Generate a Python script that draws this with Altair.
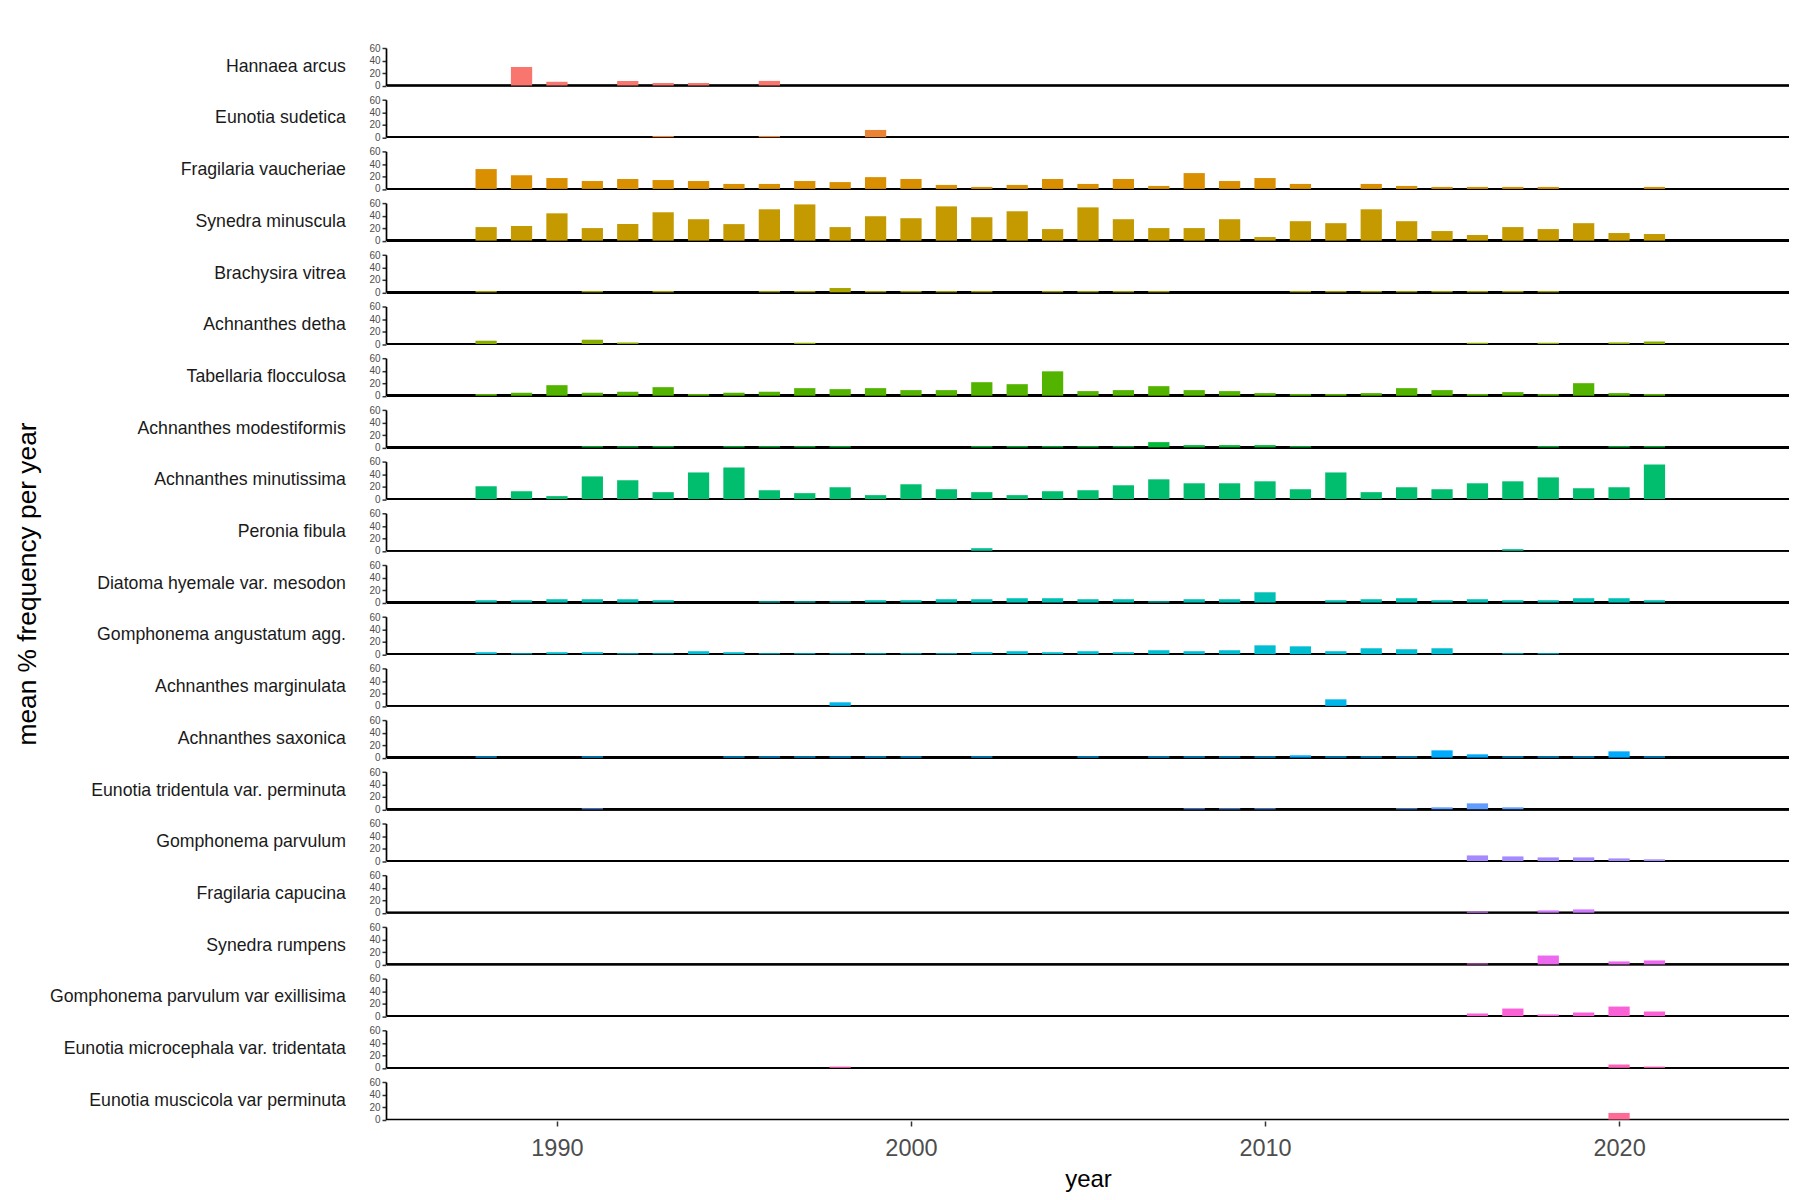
import math
import altair as alt
import pandas as pd

N = None
YEARS = [1988, 1989, 1990, 1991, 1992, 1993, 1994, 1995, 1996, 1997, 1998, 1999,
         2000, 2001, 2002, 2003, 2004, 2005, 2006, 2007, 2008, 2009, 2010, 2011,
         2012, 2013, 2014, 2015, 2016, 2017, 2018, 2019, 2020, 2021]

SPECIES = [
    "Hannaea arcus", "Eunotia sudetica", "Fragilaria vaucheriae", "Synedra minuscula",
    "Brachysira vitrea", "Achnanthes detha", "Tabellaria flocculosa",
    "Achnanthes modestiformis", "Achnanthes minutissima", "Peronia fibula",
    "Diatoma hyemale var. mesodon", "Gomphonema angustatum agg.", "Achnanthes marginulata",
    "Achnanthes saxonica", "Eunotia tridentula var. perminuta", "Gomphonema parvulum",
    "Fragilaria capucina", "Synedra rumpens", "Gomphonema parvulum var exillisima",
    "Eunotia microcephala var. tridentata", "Eunotia muscicola var perminuta",
]

#                1988 89    90    91    92    93    94    95    96    97    98    99    2000  01    02    03    04    05    06    07    08    09    10    11    12    13    14    15    16    17    18    19    20    21
hannaea      = [N,    30,   6,    N,    7.4,  4,    4,    N,    7.4,  N,    N,    N,    N,    N,    N,    N,    N,    N,    N,    N,    N,    N,    N,    N,    N,    N,    N,    N,    N,    N,    N,    N,    N,    N]
sudetica     = [N,    N,    N,    N,    N,    2,    N,    N,    2,    N,    N,    11.7, N,    N,    N,    N,    N,    N,    N,    N,    N,    N,    N,    N,    N,    N,    N,    N,    N,    N,    N,    N,    N,    N]
vaucheriae   = [32,   22,   17.5, 12.7, 16,   14.3, 12.7, 8,    8,    12.7, 11,   19,   16,   6.4,  3.2,  6.4,  16,   8,    16,   4.8,  25.5, 12.7, 17.5, 8,    N,    8,    4.8,  3.2,  3.2,  3.2,  3.2,  N,    N,    3.2]
minuscula    = [21.8, 23.4, 44,   20.2, 26.6, 45.7, 34.5, 26.6, 50.5, 58.4, 21.8, 39.3, 36.1, 55.2, 37.7, 47.3, 18.6, 53.6, 34.5, 20.2, 20.2, 34.5, 5.8,  31.3, 28.1, 50.5, 31.3, 15.4, 9,    21.8, 18.6, 28.1, 12.2, 10.6]
brachysira   = [2,    N,    N,    2,    N,    2,    N,    N,    2,    2,    6.9,  2,    2,    2,    2,    N,    2,    2,    2,    2,    N,    N,    N,    2,    2,    2,    2,    2,    2,    2,    2,    N,    N,    N]
detha        = [5.3,  N,    N,    6.9,  2.5,  N,    N,    N,    N,    2,    N,    N,    N,    N,    N,    N,    N,    N,    N,    N,    N,    N,    N,    N,    N,    N,    N,    N,    2,    N,    2,    N,    2.5,  4]
tabellaria   = [2.7,  4.8,  17,   4.8,  6.4,  13.8, 2.7,  4.8,  6.4,  12.2, 10.6, 12.2, 9,    9,    21.8, 18.6, 39.3, 7.4,  9,    15.4, 9,    7.4,  4.2,  2.7,  2.7,  4.2,  12.2, 9,    2.7,  5.8,  2.7,  20.2, 4.2,  2.7]
modestiform  = [N,    N,    N,    2,    2,    2,    N,    2,    2,    2,    2,    N,    N,    N,    2,    2,    2,    2,    2,    8.5,  3.7,  3.7,  3.7,  2,    N,    N,    N,    N,    N,    N,    2,    N,    2,    2]
minutissima  = [20.7, 12.7, 4.8,  36.6, 30.3, 11.2, 43,   51,   14.3, 9.6,  19.1, 6.4,  23.9, 15.9, 11.2, 6.4,  12.7, 14.3, 22.3, 31.9, 25.5, 25.5, 28.7, 15.9, 43,   11.2, 19.1, 15.9, 25.5, 28.7, 35,   17.5, 19.1, 55.8]
peronia      = [N,    N,    N,    N,    N,    N,    N,    N,    N,    N,    N,    N,    N,    N,    4.2,  N,    N,    N,    N,    N,    N,    N,    N,    N,    N,    N,    N,    N,    N,    2.7,  N,    N,    N,    N]
diatoma      = [3.7,  3.7,  5.3,  5.3,  5.3,  3.7,  N,    N,    2,    2,    2,    3.7,  3.7,  5.3,  5.3,  6.9,  6.9,  5.3,  5.3,  2,    5.3,  5.3,  16.5, N,    3.7,  5.3,  6.9,  3.7,  5.3,  3.7,  3.7,  6.9,  6.9,  3.7]
angustatum   = [3.2,  1.6,  3.2,  3.2,  1.6,  1.6,  4.8,  3.2,  1.6,  1.6,  1.6,  1.6,  1.6,  1.6,  3.2,  4.8,  3.2,  4.8,  3.2,  6.4,  4.8,  6.4,  14.3, 12.7, 4.8,  9.6,  8,    9.6,  N,    1.6,  1.6,  N,    N,    N]
marginulata  = [N,    N,    N,    N,    N,    N,    N,    N,    N,    N,    5.8,  N,    N,    N,    N,    N,    N,    N,    N,    N,    N,    N,    N,    N,    10.6, N,    N,    N,    N,    N,    N,    N,    N,    N]
saxonica     = [2,    N,    N,    2,    N,    N,    N,    2,    2,    2,    2,    2,    2,    N,    2,    N,    N,    2,    N,    2,    2,    2,    2,    3.7,  2,    2,    2,    11.7, 5.3,  2,    2,    2,    10.1, 2]
tridentula   = [N,    N,    N,    1.6,  N,    N,    N,    N,    N,    N,    N,    N,    N,    N,    N,    N,    N,    N,    N,    N,    1.6,  1.6,  1.6,  N,    N,    N,    1.6,  3.2,  9.6,  3.2,  N,    N,    N,    N]
parvulum     = [N,    N,    N,    N,    N,    N,    N,    N,    N,    N,    N,    N,    N,    N,    N,    N,    N,    N,    N,    N,    N,    N,    N,    N,    N,    N,    N,    N,    9,    7.4,  5.8,  5.8,  4.2,  2.7]
capucina     = [N,    N,    N,    N,    N,    N,    N,    N,    N,    N,    N,    N,    N,    N,    N,    N,    N,    N,    N,    N,    N,    N,    N,    N,    N,    N,    N,    N,    2,    N,    3.7,  5.3,  N,    N]
rumpens      = [N,    N,    N,    N,    N,    N,    N,    N,    N,    N,    N,    N,    N,    N,    N,    N,    N,    N,    N,    N,    N,    N,    N,    N,    N,    N,    N,    N,    1.6,  N,    14.3, N,    4.8,  6.4]
exillisima   = [N,    N,    N,    N,    N,    N,    N,    N,    N,    N,    N,    N,    N,    N,    N,    N,    N,    N,    N,    N,    N,    N,    N,    N,    N,    N,    N,    N,    4.2,  12.2, 2.7,  5.8,  15.4, 7.4]
microcephala = [N,    N,    N,    N,    N,    N,    N,    N,    N,    N,    2,    N,    N,    N,    N,    N,    N,    N,    N,    N,    N,    N,    N,    N,    N,    N,    N,    N,    N,    N,    N,    N,    5.3,  2]
muscicola    = [N,    N,    N,    N,    N,    N,    N,    N,    N,    N,    N,    N,    N,    N,    N,    N,    N,    N,    N,    N,    N,    N,    N,    N,    N,    N,    N,    N,    N,    N,    N,    N,    10.6, N]

SERIES = [hannaea, sudetica, vaucheriae, minuscula, brachysira, detha, tabellaria,
          modestiform, minutissima, peronia, diatoma, angustatum, marginulata, saxonica,
          tridentula, parvulum, capucina, rumpens, exillisima, microcephala, muscicola]

rows = []
for name, vals in zip(SPECIES, SERIES):
    for yr, v in zip(YEARS, vals):
        if v is not None:
            rows.append({"species": name, "year": yr, "value": v})
df = pd.DataFrame(rows)


def hcl_hex(h, c=100.0, l=65.0):
    hr = math.radians(h)
    U, V = c * math.cos(hr), c * math.sin(hr)
    Xn, Yn, Zn = 95.047, 100.0, 108.883
    Y = Yn * ((l + 16) / 116) ** 3
    t = Xn + 15 * Yn + 3 * Zn
    un, vn = 4 * Xn / t, 9 * Yn / t
    u, v = U / (13 * l) + un, V / (13 * l) + vn
    X = 9.0 * Y * u / (4 * v)
    Z = -X / 3 - 5 * Y + 3 * Y / v
    X, Y, Z = X / 100, Y / 100, Z / 100
    rgb = [3.240479 * X - 1.537150 * Y - 0.498535 * Z,
           -0.969256 * X + 1.875992 * Y + 0.041556 * Z,
           0.055648 * X - 0.204043 * Y + 1.057311 * Z]
    out = []
    for ch in rgb:
        ch = 12.92 * ch if ch <= 0.0031308 else 1.055 * ch ** (1 / 2.4) - 0.055
        ch = min(1.0, max(0.0, ch))
        out.append(int(round(ch * 255)))
    return "#%02X%02X%02X" % tuple(out)


COLORS = [hcl_hex(15 + 360.0 / len(SPECIES) * i) for i in range(len(SPECIES))]

FONT = "Liberation Sans"

base = alt.Chart().transform_calculate(
    x1="datum.year - 0.3", x2="datum.year + 0.3"
)

x_enc = alt.X(
    "x1:Q",
    scale=alt.Scale(domain=[1985.2, 2024.8], nice=False, zero=False),
    axis=alt.Axis(
        values=[1990, 2000, 2010, 2020], format="d", title="year", grid=False,
        labelFontSize=23.5, labelColor="#4d4d4d", labelPadding=10.5,
        tickSize=5, tickWidth=1.5, tickColor="#333333",
        domain=False,
        titleFontSize=24, titleFontWeight="normal", titleColor="black", titlePadding=7,
    ),
)
y_enc = alt.Y(
    "value:Q",
    scale=alt.Scale(domain=[0, 60.5], nice=False),
    axis=alt.Axis(
        values=[0, 20, 40, 60], tickCount=4, title=None, grid=False, labelOverlap=False,
        labelFontSize=10, labelColor="#4d4d4d", labelPadding=2,
        tickSize=4, tickWidth=1.5, tickColor="#333333",
        domainColor="black", domainWidth=1.7,
    ),
)

rule = base.mark_rule(color="black", strokeWidth=1.7).encode(y=alt.datum(0))

bars = base.mark_rect().encode(
    x=x_enc,
    x2="x2:Q",
    y=y_enc,
    y2=alt.datum(0),
    color=alt.Color("species:N", scale=alt.Scale(domain=SPECIES, range=COLORS), legend=None),
)

chart = alt.layer(rule, bars, data=df).properties(width=1402, height=37.5).facet(
    row=alt.Row(
        "species:N",
        sort=SPECIES,
        title="mean % frequency per year",
        header=alt.Header(
            labelAngle=0, labelAlign="left", labelOrient="left",
            labelFontSize=17.7, labelFont=FONT, labelColor="#1a1a1a", labelPadding=23,
            titleOrient="left", titleAngle=270, titleFontSize=26.3, titleFont=FONT,
            titleColor="black", titleFontWeight="normal", titlePadding=-29,
        ),
    ),
    spacing=12.7,
).properties(
    padding={"left": 6, "top": 35, "right": 0, "bottom": 5}
).configure(
    font=FONT
).configure_view(
    stroke=None
)

chart.save("out.html", embed_options={"renderer": "svg", "actions": False})
